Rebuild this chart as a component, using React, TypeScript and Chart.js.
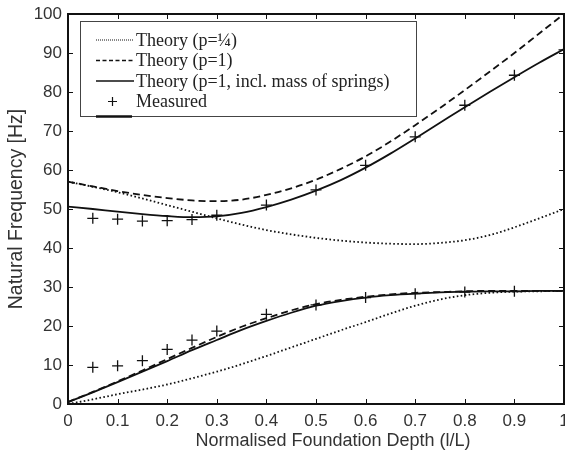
import React, { useEffect, useRef } from "react";
import { Chart, registerables } from "chart.js";

Chart.register(...registerables);

const theoryX = [0, 0.05, 0.1, 0.15, 0.2, 0.25, 0.3, 0.35, 0.4, 0.45, 0.5, 0.55, 0.6, 0.65, 0.7, 0.75, 0.8, 0.85, 0.9, 0.95, 1.0];

const upperQuarter = [57, 55.7, 54.3, 52.7, 51, 49.3, 47.6, 46, 44.6, 43.5, 42.6, 41.9, 41.4, 41.1, 41, 41.3, 42, 43.3, 45.3, 47.6, 50];
const upperP1 = [57, 55.8, 54.6, 53.6, 52.8, 52.2, 52, 52.4, 53.6, 55.3, 57.5, 60.3, 63.5, 67.3, 71.5, 75.9, 80.5, 85.2, 90, 95, 100];
const upperSprings = [50.6, 50, 49.3, 48.7, 48.2, 47.9, 48.1, 49, 50.5, 52.4, 54.7, 57.4, 60.6, 64.2, 68.1, 72.1, 76.1, 80, 83.8, 87.5, 91];

const lowerQuarter = [0, 1.2, 2.5, 3.7, 5, 6.6, 8.3, 10.2, 12.3, 14.5, 16.7, 18.9, 21, 23.2, 25.2, 26.8, 27.9, 28.5, 28.8, 28.9, 29];
const lowerP1 = [0.5, 3.1, 5.8, 8.6, 11.5, 14.4, 17.2, 19.8, 22, 24, 25.6, 26.7, 27.5, 28.1, 28.5, 28.7, 28.9, 29, 29, 29, 29];
const lowerSprings = [0.5, 3, 5.6, 8.3, 11, 13.8, 16.4, 19, 21.3, 23.4, 25.2, 26.4, 27.3, 27.9, 28.3, 28.6, 28.8, 28.9, 28.9, 29, 29];

const measuredX = [0.05, 0.1, 0.15, 0.2, 0.25, 0.3, 0.4, 0.5, 0.6, 0.7, 0.8, 0.9, 1.0];
const measuredUpper = [47.6, 47.4, 46.9, 47, 47.3, 48.4, 51, 54.9, 61.2, 68.5, 76.6, 84.3, 90.8];
const measuredLower = [9.4, 9.8, 11.1, 14, 16.4, 18.7, 23, 25.4, 27.3, 28.3, 28.7, 28.9, 29.0];

const legendLabels = ["Theory (p=\u00BC)", "Theory (p=1)", "Theory (p=1, incl. mass of springs)", "Measured"];
const xTitle = "Normalised Foundation Depth (l/L)";
const yTitle = "Natural Frequency [Hz]";

const INK = "#111";
const DOT = [1.6, 2.4];
const DASH = [7, 4];

const pts = (xs: number[], ys: number[]) => xs.map((x, i) => ({ x, y: ys[i] }));

const lineDs = (ys: number[], dash: number[]) => ({
  type: "line" as const,
  data: pts(theoryX, ys),
  borderColor: INK,
  borderWidth: 1.8,
  borderDash: dash,
  pointRadius: 0,
  fill: false,
  tension: 0.4,
  cubicInterpolationMode: "monotone" as const,
});

const measDs = (ys: number[]) => ({
  type: "line" as const,
  data: pts(measuredX, ys),
  showLine: false,
  pointStyle: "cross" as const,
  pointRadius: 5.5,
  pointBorderWidth: 1.3,
  borderColor: INK,
  backgroundColor: INK,
  clip: false as const,
});

const zeroPad = () => ({ left: 0, top: 0, right: 0, bottom: 0 });

const framePlugin = {
  id: "frame",
  afterDraw(chart: any) {
    const { ctx, chartArea: a, scales } = chart;
    const xs = scales.x;
    const ys = scales.y;
    ctx.save();
    ctx.strokeStyle = INK;
    ctx.lineWidth = 1;
    const tl = 5;
    for (let i = 0; i <= 10; i++) {
      const px = Math.round(xs.getPixelForValue(i / 10)) + 0.5;
      ctx.beginPath();
      ctx.moveTo(px, a.bottom);
      ctx.lineTo(px, a.bottom - tl);
      ctx.moveTo(px, a.top);
      ctx.lineTo(px, a.top + tl);
      ctx.stroke();
      const py = Math.round(ys.getPixelForValue(i * 10)) + 0.5;
      ctx.beginPath();
      ctx.moveTo(a.left, py);
      ctx.lineTo(a.left + tl, py);
      ctx.moveTo(a.right, py);
      ctx.lineTo(a.right - tl, py);
      ctx.stroke();
    }
    ctx.lineWidth = 2;
    ctx.strokeRect(a.left, a.top, a.right - a.left, a.bottom - a.top);

    // legend
    const lx = 80.5, ly = 21.5, lw = 336, lh = 95;
    ctx.fillStyle = "#fff";
    ctx.fillRect(lx, ly, lw, lh);
    ctx.strokeStyle = "#444";
    ctx.lineWidth = 1;
    ctx.strokeRect(lx, ly, lw, lh);
    ctx.strokeStyle = INK;
    ctx.lineWidth = 2.5;
    ctx.beginPath();
    ctx.moveTo(96, ly + lh);
    ctx.lineTo(132, ly + lh);
    ctx.stroke();

    const rows = [40, 60.5, 81, 101.5];
    ctx.font = '18px "Liberation Serif", "Times New Roman", serif';
    ctx.textBaseline = "middle";
    ctx.textAlign = "left";
    ctx.fillStyle = "#222";
    for (let i = 0; i < 4; i++) {
      const y = rows[i];
      ctx.strokeStyle = INK;
      if (i < 3) {
        ctx.lineWidth = i === 0 ? 1 : 1.3;
        ctx.setLineDash(i === 0 ? [1, 1] : i === 1 ? [4, 2.5] : []);
        ctx.beginPath();
        ctx.moveTo(96, y);
        ctx.lineTo(134, y);
        ctx.stroke();
        ctx.setLineDash([]);
      } else {
        ctx.lineWidth = 1.2;
        ctx.beginPath();
        ctx.moveTo(108, y);
        ctx.lineTo(117, y);
        ctx.moveTo(112.5, y - 4.5);
        ctx.lineTo(112.5, y + 4.5);
        ctx.stroke();
      }
      ctx.fillText(legendLabels[i], 136, y + 1);
    }

    // titles
    ctx.fillStyle = "#333";
    ctx.font = '18px "Liberation Sans", Arial, sans-serif';
    ctx.textAlign = "center";
    ctx.textBaseline = "middle";
    ctx.fillText(xTitle, 333, 441);
    ctx.save();
    ctx.translate(17, (a.top + a.bottom) / 2);
    ctx.rotate(-Math.PI / 2);
    ctx.font = '19.5px "Liberation Sans", Arial, sans-serif';
    ctx.fillText(yTitle, 0, 0);
    ctx.restore();
    ctx.restore();
  },
};

export default function App() {
  const ref = useRef<HTMLCanvasElement>(null);
  useEffect(() => {
    if (!ref.current) return;
    const tickFont = { family: '"Liberation Sans", Arial, sans-serif', size: 17 };
    const chart = new Chart(ref.current, {
      type: "line",
      data: {
        datasets: [
          lineDs(upperQuarter, DOT),
          lineDs(upperP1, DASH),
          lineDs(upperSprings, []),
          lineDs(lowerQuarter, DOT),
          lineDs(lowerP1, DASH),
          lineDs(lowerSprings, []),
          measDs(measuredUpper),
          measDs(measuredLower),
        ] as any,
      },
      options: {
        animation: false,
        responsive: false,
        devicePixelRatio: 1,
        layout: { autoPadding: false, padding: { top: 14, right: 1, left: 0, bottom: 0 } },
        plugins: { legend: { display: false }, tooltip: { enabled: false } },
        scales: {
          x: {
            type: "linear",
            min: 0,
            max: 1,
            grid: { display: false, drawTicks: false },
            border: { display: false },
            afterFit: (s: any) => {
              s.height = 52;
              s.paddingLeft = 0;
              s.paddingRight = 0;
              s.getPadding = zeroPad;
            },
            ticks: {
              stepSize: 0.1,
              padding: 7,
              color: "#333",
              font: tickFont,
              maxRotation: 0,
              autoSkip: false,
              callback: (v: any) => String(Number(Number(v).toFixed(1))),
            },
          },
          y: {
            type: "linear",
            min: 0,
            max: 100,
            grid: { display: false, drawTicks: false },
            border: { display: false },
            afterFit: (s: any) => {
              s.width = 68;
              s.paddingTop = 0;
              s.paddingBottom = 0;
              s.getPadding = zeroPad;
            },
            ticks: { stepSize: 10, padding: 6, color: "#333", font: tickFont, autoSkip: false },
          },
        },
      },
      plugins: [framePlugin],
    });
    return () => chart.destroy();
  }, []);
  return (
    <div style={{ position: "fixed", left: 0, top: 0, width: 565, height: 456, background: "#fff" }}>
      <canvas ref={ref} width={565} height={456} />
    </div>
  );
}
